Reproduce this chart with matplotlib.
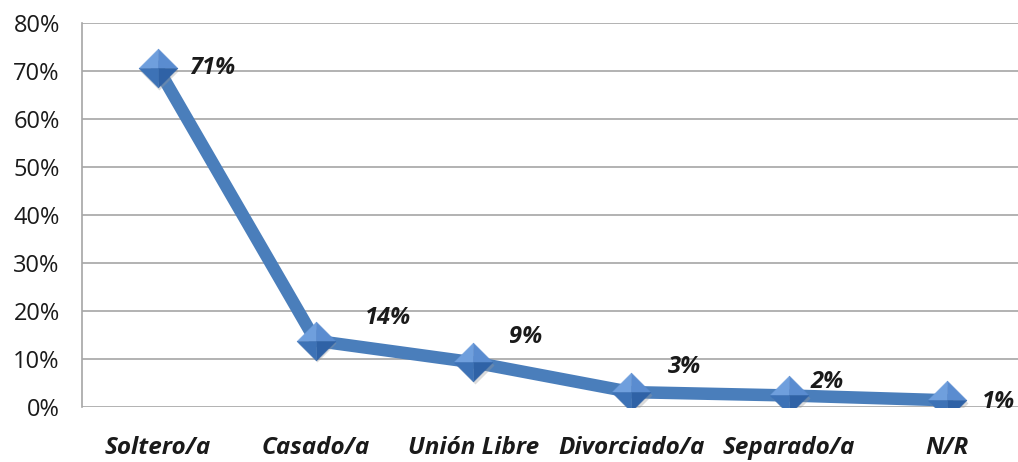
import matplotlib
matplotlib.use("Agg")
import matplotlib.pyplot as plt
from matplotlib.ticker import FuncFormatter

categories = ["Soltero/a", "Casado/a", "Unión Libre", "Divorciado/a", "Separado/a", "N/R"]
values = [70.6, 13.8, 9.3, 3.1, 2.4, 1.4]
label_offsets = [(54, 0), (72, 23), (52, 25), (53, 25), (38, 13), (52, -2)]
y_ticks = [0, 10, 20, 30, 40, 50, 60, 70, 80]

line_color = "#4A7EBB"
font = "Open Sans"

fig = plt.figure(figsize=(10.18, 4.62), dpi=100)
ax = fig.add_axes([82 / 1018, 55 / 462, 936 / 1018, 384 / 462])

x = list(range(len(categories)))
ax.plot(x, values, color=line_color, lw=9, solid_joinstyle="miter", zorder=3)

# shaded diamond markers built from four facets
facets = [
    ([(0, 0), (-1, 0), (0, 1), (0, 0)], "#6F9FDD"),   # upper-left
    ([(0, 0), (0, 1), (1, 0), (0, 0)], "#5A8CD0"),    # upper-right
    ([(0, 0), (1, 0), (0, -1), (0, 0)], "#2F62A6"),   # lower-right
    ([(0, 0), (0, -1), (-1, 0), (0, 0)], "#3D72B6"),  # lower-left
]
ax.plot([xi + 0.01 for xi in x], [v - 0.5 for v in values], ls="none", marker="D",
        ms=19.5, mfc="#9a9a9a", mec="none", alpha=0.35, zorder=4)
for verts, c in facets:
    ax.plot(x, values, ls="none", marker=verts, ms=28, mfc=c, mec=c, mew=0.3, zorder=5)

for xi, v, (dx, dy) in zip(x, values, label_offsets):
    ax.annotate(f"{v:.0f}%", (xi, v), xytext=(dx, dy), textcoords="offset pixels",
                ha="center", va="center", fontsize=17, fontweight="bold",
                fontstyle="italic", family=font, color="#1a1a1a", zorder=6)

ax.set_xlim(-0.48, 5.45)
ax.set_ylim(0, 80)
ax.set_yticks(y_ticks)
ax.yaxis.set_major_formatter(FuncFormatter(lambda v, p: f"{v:.0f}%"))
ax.set_xticks(x)
ax.set_xticklabels(categories)
ax.grid(axis="y", color="#A6A6A6", lw=1.2, zorder=0)
ax.set_axisbelow(True)

for s in ["top", "right", "bottom"]:
    ax.spines[s].set_visible(False)
ax.spines["left"].set_color("#A6A6A6")
ax.spines["left"].set_linewidth(1.2)

ax.tick_params(axis="both", length=0)
ax.tick_params(axis="y", pad=16, labelsize=17, labelcolor="#1a1a1a")
ax.tick_params(axis="x", pad=21, labelsize=17.5, labelcolor="#1a1a1a")
for lab in ax.get_yticklabels():
    lab.set_family(font)
for lab in ax.get_xticklabels():
    lab.set_family(font)
    lab.set_fontweight("bold")
    lab.set_fontstyle("italic")

fig.savefig("out.png", dpi=100, facecolor="white")
